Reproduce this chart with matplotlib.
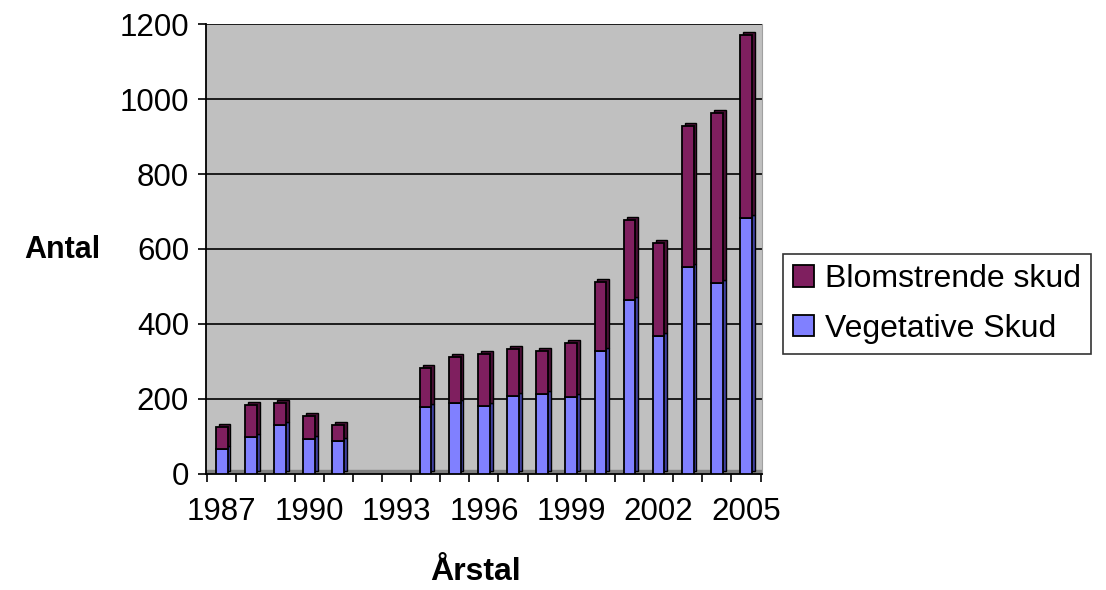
import matplotlib.pyplot as plt
import numpy as np

plt.rcParams['font.family'] = ['Liberation Sans', 'DejaVu Sans']

years = list(range(1987, 2006))
vegetative = [67, 99, 131, 92, 87, 0, 0, 178, 188, 180, 207, 212, 206, 328, 464, 368, 551, 508, 682]
blomstrende = [58, 85, 57, 63, 44, 0, 0, 105, 125, 139, 126, 116, 142, 184, 213, 247, 377, 454, 489]
tick_years = [1987, 1990, 1993, 1996, 1999, 2002, 2005]

x = np.arange(len(years))
veg = np.array(vegetative)
blo = np.array(blomstrende)
shown = (veg + blo) > 0

fig = plt.figure(figsize=(11.06, 5.9), dpi=100)
ax = fig.add_axes([0.186, 0.197, 0.503, 0.762])
ax.set_facecolor('#C0C0C0')

ax.set_ylim(0, 1200)
ax.set_xlim(-0.55, len(years) - 0.45)
ax.set_yticks(range(0, 1201, 200))
ax.yaxis.grid(True, color='black', linewidth=1.2)
ax.set_axisbelow(True)
ax.axhspan(0, 10, color='#808080', zorder=1)

w = 0.4
dx, dy = 0.1, 8
# side/top faces for a little depth
ax.bar(x[shown] + dx, veg[shown], w, bottom=dy, color='#4040A0', edgecolor='black', linewidth=1, zorder=2)
ax.bar(x[shown] + dx, blo[shown], w, bottom=veg[shown] + dy, color='#4A0F36', edgecolor='black', linewidth=1, zorder=2)
# front faces
ax.bar(x[shown], veg[shown], w, color='#8080FF', edgecolor='black', linewidth=1.3, zorder=3,
       label='Vegetative Skud')
ax.bar(x[shown], blo[shown], w, bottom=veg[shown], color='#7F1F5F', edgecolor='black', linewidth=1.3,
       zorder=3, label='Blomstrende skud')

ax.set_xticks(np.arange(len(years) + 1) - 0.5)
ax.set_xticklabels([])
ax.tick_params(axis='x', which='major', length=6, width=1.2, direction='out')
ax.set_xticks([years.index(t) for t in tick_years], minor=True)
ax.set_xticklabels([str(t) for t in tick_years], minor=True)
ax.tick_params(axis='x', which='minor', length=0, pad=17, labelsize=22.5)
ax.tick_params(axis='y', length=6, width=1.2, labelsize=22.5, pad=6)

ax.spines['top'].set_visible(False)
ax.spines['right'].set_color('#A0A0A0')
ax.spines['left'].set_linewidth(1.3)
ax.spines['bottom'].set_linewidth(1.3)

fig.text(0.056, 0.576, 'Antal', fontsize=22, fontweight='bold', ha='center', va='center')
fig.text(0.4295, 0.031, 'Årstal', fontsize=23, fontweight='bold', ha='center', va='center')

h, l = ax.get_legend_handles_labels()
leg = fig.legend(h[::-1], l[::-1], loc='upper left', bbox_to_anchor=(0.708, 0.5695), fontsize=23,
                 frameon=True, fancybox=False, edgecolor='black', handlelength=0.65, handleheight=0.65,
                 handletextpad=0.35, borderpad=0.32, borderaxespad=0, labelspacing=0.62)
leg.get_frame().set_linewidth(1.2)

fig.savefig('out.png', dpi=100)
